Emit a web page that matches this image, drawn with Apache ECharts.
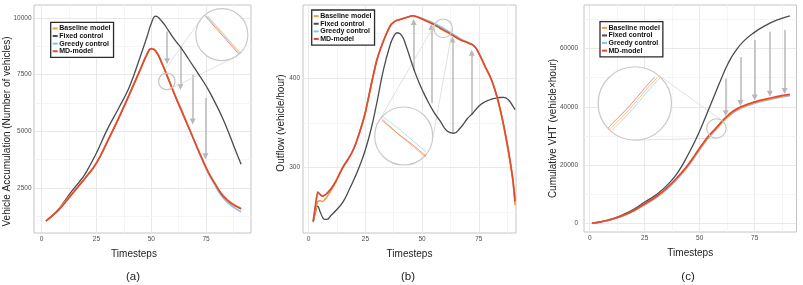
<!DOCTYPE html>
<html>
<head>
<meta charset="utf-8">
<script src="https://cdn.jsdelivr.net/npm/echarts@6/dist/echarts.min.js"></script>
<style>
html, body { margin: 0; padding: 0; background: #fff; }
#main { width: 803px; height: 285px; }
</style>
</head>
<body>
<div id="main"></div>
<script>
var FONT = 'Liberation Sans, Arial, sans-serif';
var legendNames = ['Baseline model', 'Fixed control', 'Greedy control', 'MD-model'];
var colors = {
    'Baseline model': '#f39a3d',
    'Fixed control': '#474b52',
    'Greedy control': '#7cc8e8',
    'MD-model': '#e8442e'
};
var drawOrder = ['Fixed control', 'Greedy control', 'Baseline model', 'MD-model'];

var xTicks = [0, 25, 50, 75];
var yTicksA = [2500, 5000, 7500, 10000];
var yTicksB = [300, 400];
var yTicksC = [0, 20000, 40000, 60000];

// (a) vehicle accumulation
var tA = [2, 5, 8, 11, 14, 17, 20, 25, 30, 35, 40, 45, 48, 50, 52, 55, 58, 61, 64, 67, 70, 73, 76, 79, 82, 85, 88, 91];
var fixedA = [1050, 1300, 1600, 2000, 2400, 2750, 3150, 4050, 5100, 6000, 6960, 8300, 9150, 9750, 10080, 9830, 9420, 9000, 8630, 8190, 7750, 7310, 6840, 6290, 5700, 5020, 4270, 3550];
var mdA = [1050, 1300, 1560, 1900, 2250, 2600, 2950, 3600, 4550, 5550, 6620, 7720, 8380, 8640, 8540, 7960, 7250, 6530, 5860, 5180, 4500, 3830, 3200, 2700, 2240, 1940, 1730, 1580];
var baselineA = [1050, 1300, 1580, 1940, 2270, 2620, 2970, 3620, 4570, 5570, 6640, 7740, 8395, 8650, 8555, 7990, 7290, 6570, 5890, 5200, 4510, 3840, 3210, 2720, 2270, 1970, 1760, 1610];
var greedyA = [1050, 1300, 1570, 1920, 2260, 2610, 2960, 3610, 4560, 5560, 6630, 7730, 8390, 8645, 8548, 7975, 7270, 6550, 5870, 5180, 4480, 3800, 3160, 2640, 2160, 1850, 1630, 1450];
var arrowTA = [57.2, 63.3, 68.9, 74.7];
var arrowFromA = [9400, 8750, 7500, 6470];
var arrowToA = [8090, 6960, 5440, 3900];

// (b) outflow
var tB = [2, 3, 4, 5, 6, 7, 8, 10, 12, 15, 18, 20, 22.5, 25, 27.5, 30, 33, 36, 37.5, 39, 41, 43, 46, 49, 52, 55, 58, 61, 64, 67, 70, 72, 74, 76, 78, 80, 82, 84, 86, 88, 90, 91];
var fixedB = [239, 250, 257, 251, 245, 242, 242, 247, 252, 261, 276, 287, 302, 320, 343, 372, 410, 438, 447, 451, 448, 436, 413, 393, 377, 363, 352, 341, 338.5, 345, 355, 360, 366, 371, 374, 376, 377.5, 378.5, 378.7, 376, 369, 365];
var mdB = [240, 258, 273, 270, 268, 269, 271, 277, 285, 300, 312, 322, 340, 362, 392, 420, 442, 459, 463, 465, 466.5, 468, 470, 467.5, 464, 460.5, 456, 452, 447.5, 443, 440, 438, 433, 423, 412, 402, 388, 370, 347, 320, 287, 262];
var baselineB = [240, 252, 262, 263, 262, 264, 267, 275, 284, 300, 312, 322, 340, 362, 392, 420, 442, 459, 463, 465, 466.5, 468, 470, 467.5, 464.5, 461, 456, 451.5, 447, 443, 440, 438, 433, 423, 412, 402, 388, 369, 346, 318, 285, 258];
var greedyB = [240, 258, 272, 270, 268, 269, 271, 277, 285, 300, 312, 322, 340, 362, 392, 420, 442, 459, 463, 465, 466.5, 468, 470, 468, 465, 462, 458, 453.5, 449, 444, 440.5, 438, 433, 423, 412, 402, 388, 370, 347, 320, 288, 264];
var arrowTB = [46.3, 54.1, 63.4, 71.9];
var arrowFromB = [408, 372, 340, 359];
var arrowToB = [463, 457.5, 443.5, 428.5];

// (c) cumulative VHT
var tC = [1, 5, 10, 15, 20, 25, 30, 35, 40, 45, 48, 51, 54, 57, 60, 63, 66, 70, 75, 80, 85, 91];
var fixedC = [100, 600, 1600, 3000, 4900, 7400, 9800, 13000, 17500, 24000, 28500, 33500, 39000, 44500, 50000, 55000, 58800, 62500, 65600, 67900, 69700, 71200];
var mdC = [100, 600, 1500, 2800, 4500, 6800, 9200, 12200, 16000, 20500, 23700, 27000, 30000, 32400, 35000, 37200, 38900, 40400, 41700, 42700, 43500, 44300];
var baselineC = [100, 580, 1460, 2720, 4380, 6620, 8980, 11950, 15720, 20200, 23400, 26700, 29700, 32100, 34700, 36900, 38650, 40150, 41450, 42450, 43250, 44050];
var greedyC = [100, 560, 1420, 2640, 4260, 6440, 8760, 11700, 15440, 19900, 23100, 26400, 29400, 31800, 34400, 36600, 38400, 39900, 41200, 42200, 43000, 43800];
var arrowTC = [61.8, 68.5, 75, 81.9, 88.6];
var arrowFromC = [49700, 57100, 62900, 65700, 66300];
var arrowToC = [37800, 41350, 43200, 44450, 45450];

var panels = [
    {
        t: tA, vals: { 'Baseline model': baselineA, 'Fixed control': fixedA, 'Greedy control': greedyA, 'MD-model': mdA },
        yTicks: yTicksA, arrows: [arrowTA, arrowFromA, arrowToA],
        grid: { left: 34, top: 5, width: 217, height: 228 }, xr: [-3.5, 95.5], yr: [520, 10570],
        yName: 'Vehicle Accumulation (Number of vehicles)', yNameGap: 21.5, yNamePad: [0, 25, 0, 0], xNamePad: [0, 17, 0, 0],
        yLabelMargin: 2.5, legend: [50.7, 22.3], tag: '(a)', tagX: 133, smooth: 0.5, fixedSmooth: 0.5,
        mag: { small: [57.1, 7205], rs: 8.3, big: [82.2, 9264], rb: 26, focus: [58.2, 7205], stretch: 2.2 }
    },
    {
        t: tB, vals: { 'Baseline model': baselineB, 'Fixed control': fixedB, 'Greedy control': greedyB, 'MD-model': mdB },
        yTicks: yTicksB, arrows: [arrowTB, arrowFromB, arrowToB],
        grid: { left: 303, top: 5, width: 213, height: 228 }, xr: [-2.5, 91.4], yr: [226.8, 482.1],
        yName: 'Outflow (vehicle/hour)', yNameGap: 16.5, yNamePad: [0, 8, 0, 0], xNamePad: [0, 0, 0, 0],
        yLabelMargin: 3, legend: [311.7, 10], tag: '(b)', tagX: 408, smooth: 0.15, fixedSmooth: 0.5,
        mag: { small: [59.3, 456], rs: 9.3, big: [41.9, 335.4], rb: 29, focus: [59.3, 455], stretch: 0.7 }
    },
    {
        t: tC, vals: { 'Baseline model': baselineC, 'Fixed control': fixedC, 'Greedy control': greedyC, 'MD-model': mdC },
        yTicks: yTicksC, arrows: [arrowTC, arrowFromC, arrowToC],
        grid: { left: 584, top: 5, width: 212.5, height: 227 }, xr: [-2.6, 94], yr: [-2880, 74890],
        yName: 'Cumulative VHT (vehicle\u00d7hour)', yNameGap: 26, yNamePad: [0, 20, 0, 0], xNamePad: [0, 0, 0, 0],
        yLabelMargin: 6, legend: [600, 21.7], tag: '(c)', tagX: 688, smooth: 0.5, fixedSmooth: 0.5,
        mag: { small: [57.6, 32590], rs: 9.7, big: [20.5, 41166], rb: 36.7, focus: [57.6, 32590], stretch: 1 }
    }
];

function pts(t, v) {
    return t.map(function (x, i) { return [x, v[i]]; });
}

function toPx(p, t, v) {
    var g = p.grid;
    return [g.left + (t - p.xr[0]) / (p.xr[1] - p.xr[0]) * g.width,
            g.top + (p.yr[1] - v) / (p.yr[1] - p.yr[0]) * g.height];
}

// external tangent lines between two circles
function tangents(s, rs, b, rb) {
    var dx = b[0] - s[0], dy = b[1] - s[1];
    var L = Math.sqrt(dx * dx + dy * dy);
    var ux = dx / L, uy = dy / L, nx = -uy, ny = ux;
    var c = (rs - rb) / L, sn = Math.sqrt(1 - c * c);
    var out = [];
    [1, -1].forEach(function (k) {
        var ex = c * ux + k * sn * nx, ey = c * uy + k * sn * ny;
        out.push([s[0] + rs * ex, s[1] + rs * ey, b[0] + rb * ex, b[1] + rb * ey]);
    });
    return out;
}

function plain(v) { return String(v); }

var chart = echarts.init(document.getElementById('main'));

var option = {
    animation: false,
    textStyle: { fontFamily: FONT },
    grid: [], xAxis: [], yAxis: [], legend: [], series: [], graphic: []
};

panels.forEach(function (p, i) {
    option.grid.push({
        left: p.grid.left, top: p.grid.top, width: p.grid.width, height: p.grid.height,
        show: true, borderColor: '#c4c4c4', borderWidth: 1, backgroundColor: 'transparent'
    });
    option.xAxis.push({
        gridIndex: i, type: 'value', min: p.xr[0], max: p.xr[1],
        name: 'Timesteps', nameLocation: 'middle', nameGap: 16.5,
        nameTextStyle: { fontSize: 10, color: '#222', padding: p.xNamePad },
        axisLine: { show: false }, axisTick: { show: false }, splitLine: { show: false },
        axisLabel: { customValues: xTicks, formatter: plain, fontSize: 6.5, color: '#4d4d4d', margin: 2.5 }
    });
    option.yAxis.push({
        gridIndex: i, type: 'value', min: p.yr[0], max: p.yr[1],
        name: p.yName, nameLocation: 'middle', nameGap: p.yNameGap, nameMoveOverlap: false,
        nameTextStyle: { fontSize: 10, color: '#222', padding: p.yNamePad },
        axisLine: { show: false }, axisTick: { show: false }, splitLine: { show: false },
        axisLabel: { customValues: p.yTicks, formatter: plain, fontSize: 6.5, color: '#4d4d4d', margin: p.yLabelMargin }
    });

    // major and minor grid lines, kept under the curves
    var lines = [];
    var major = { color: '#e6e6e6', width: 0.9, type: 'solid' };
    var minor = { color: '#f2f2f2', width: 0.8, type: 'solid' };
    xTicks.forEach(function (x) {
        lines.push({ xAxis: x, lineStyle: major });
        lines.push({ xAxis: x + 12.5, lineStyle: minor });
    });
    var step = p.yTicks[1] - p.yTicks[0];
    var y0 = p.yTicks[0] - step;
    for (var y = y0; y <= p.yr[1]; y += step / 2) {
        if (y < p.yr[0]) continue;
        var isMajor = Math.round((y - y0) / step * 2) % 2 === 0;
        lines.push({ yAxis: y, lineStyle: isMajor ? major : minor });
    }
    option.series.push({
        name: 'grid' + i, type: 'line', xAxisIndex: i, yAxisIndex: i, data: [], z: 1, silent: true,
        markLine: { z: 1, symbol: 'none', silent: true, animation: false, label: { show: false }, data: lines }
    });

    drawOrder.forEach(function (name) {
        var isFixed = name === 'Fixed control';
        option.series.push({
            name: name, type: 'line', xAxisIndex: i, yAxisIndex: i,
            data: pts(p.t, p.vals[name]), showSymbol: false, symbol: 'none',
            smooth: isFixed ? p.fixedSmooth : p.smooth,
            color: colors[name], z: 3,
            lineStyle: { width: isFixed ? 1.3 : 1.6, color: colors[name] }
        });
    });

    // arrows from fixed control to MD-model
    var arr = p.arrows;
    option.series.push({
        name: 'arrows' + i, type: 'line', xAxisIndex: i, yAxisIndex: i, data: [], z: 2, silent: true,
        markLine: {
            z: 2, symbol: ['none', 'triangle'], symbolSize: 6, silent: true, animation: false,
            label: { show: false },
            lineStyle: { color: '#b8b8b8', width: 1.5, type: 'solid', opacity: 1 },
            itemStyle: { color: '#b8b8b8' },
            data: arr[0].map(function (t, k) { return [{ coord: [t, arr[1][k]] }, { coord: [t, arr[2][k]] }]; })
        }
    });

    // magnifier: circles and connectors
    var m = p.mag;
    var sPx = toPx(p, m.small[0], m.small[1]);
    var bPx = toPx(p, m.big[0], m.big[1]);
    var half = m.rs / Math.SQRT2;
    var pxT = p.grid.width / (p.xr[1] - p.xr[0]);
    var pxV = p.grid.height / (p.yr[1] - p.yr[0]);
    var side = m.rb * Math.SQRT2;
    option.graphic.push({
        type: 'circle', shape: { cx: bPx[0], cy: bPx[1], r: m.rb }, z: 4, silent: true,
        style: { fill: 'rgba(255,255,255,0.92)', stroke: '#c9c9c9', lineWidth: 1.2 }
    });
    option.graphic.push({
        type: 'circle', shape: { cx: sPx[0], cy: sPx[1], r: m.rs }, z: 5, silent: true,
        style: { fill: 'none', stroke: '#c6c6c6', lineWidth: 1.2 }
    });
    tangents(sPx, m.rs, bPx, m.rb).forEach(function (l) {
        option.graphic.push({
            type: 'line', shape: { x1: l[0], y1: l[1], x2: l[2], y2: l[3] }, z: 3, silent: true,
            style: { stroke: '#d9d9d9', lineWidth: 0.8 }
        });
    });
    var hx = half / pxT / m.stretch;
    p.inset = {
        grid: { left: bPx[0] - side / 2, top: bPx[1] - side / 2, width: side, height: side, show: false },
        xr: [m.focus[0] - hx, m.focus[0] + hx],
        yr: [m.focus[1] - half / pxV, m.focus[1] + half / pxV]
    };

    option.legend.push({
        left: p.legend[0], top: p.legend[1], orient: 'vertical', data: legendNames,
        icon: 'rect', itemWidth: 5, itemHeight: 2, itemGap: 0.3, padding: [2.5, 3, 2.5, 2],
        borderColor: '#2b2b2b', borderWidth: 1.3, backgroundColor: '#fff', selectedMode: false, z: 6,
        textStyle: { fontSize: 7, fontWeight: 'bold', color: '#111', lineHeight: 7.3, fontFamily: FONT, padding: [0, 0, 0, -3.5] }
    });

    option.graphic.push({
        type: 'text', x: p.tagX, y: 277, silent: true,
        style: { text: p.tag, align: 'center', verticalAlign: 'middle', fontSize: 11.5, fill: '#222', fontFamily: FONT }
    });
});

// inset grids: zoomed copy of the three close curves inside each big circle
panels.forEach(function (p, i) {
    var gi = 3 + i;
    option.grid.push(p.inset.grid);
    option.xAxis.push({ gridIndex: gi, type: 'value', show: false, min: p.inset.xr[0], max: p.inset.xr[1] });
    option.yAxis.push({ gridIndex: gi, type: 'value', show: false, min: p.inset.yr[0], max: p.inset.yr[1] });
    ['Greedy control', 'Baseline model', 'MD-model'].forEach(function (name) {
        option.series.push({
            name: name, type: 'line', xAxisIndex: gi, yAxisIndex: gi,
            data: pts(p.t, p.vals[name]), showSymbol: false, symbol: 'none', smooth: p.smooth,
            clip: true, silent: true, z: 7, color: colors[name],
            lineStyle: { width: 1, color: colors[name], opacity: 0.6 }
        });
    });
});

chart.setOption(option);
</script>
</body>
</html>
